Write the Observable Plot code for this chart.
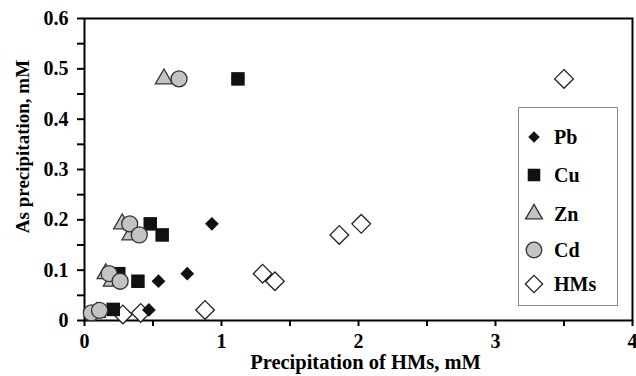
<!DOCTYPE html>
<html><head><meta charset="utf-8">
<script src="https://cdn.jsdelivr.net/npm/d3@7"></script>
<script src="https://cdn.jsdelivr.net/npm/@observablehq/plot@0.6"></script>
<style>body{margin:0;background:#fff}#chart{width:636px;height:376px}</style>
</head><body><div id="chart"></div>
<script>
const seriesNames = ["Pb", "Cu", "Zn", "Cd", "HMs"];
const pbX = [1.12, 0.93, 0.567, 0.75, 0.54, 0.47];
const pbY = [0.48, 0.192, 0.17, 0.093, 0.078, 0.021];
const cuX = [1.12, 0.48, 0.567, 0.25, 0.39, 0.21];
const cuY = [0.48, 0.192, 0.17, 0.093, 0.078, 0.022];
const znX = [0.58, 0.275, 0.336, 0.155, 0.20, 0.09];
const znY = [0.48, 0.192, 0.17, 0.093, 0.078, 0.016];
const cdX = [0.69, 0.33, 0.40, 0.18, 0.26, 0.05, 0.11];
const cdY = [0.48, 0.192, 0.17, 0.093, 0.078, 0.015, 0.02];
const hmX = [3.5, 2.02, 1.86, 1.30, 1.39, 0.88, 0.41, 0.28];
const hmY = [0.48, 0.192, 0.17, 0.093, 0.078, 0.021, 0.015, 0.012];
const xTicks = [0, 1, 2, 3, 4];
const xMinorTicks = [0.5, 1.5, 2.5, 3.5];
const yTicks = [0, 0.1, 0.2, 0.3, 0.4, 0.5, 0.6];
const yMinorTicks = [0.05, 0.15, 0.25, 0.35, 0.45, 0.55];
const xLabel = "Precipitation of HMs, mM";
const yLabel = "As precipitation, mM";

const rows = (xs, ys, s) => xs.map((x, i) => ({series: s, x, y: ys[i]}));
const pb = rows(pbX, pbY, "Pb"), cu = rows(cuX, cuY, "Cu"), zn = rows(znX, znY, "Zn"),
      cd = rows(cdX, cdY, "Cd"), hm = rows(hmX, hmY, "HMs");

const styles = {
  Pb:  {symbol: "diamond2", fill: "#111", stroke: "none", r: 6.2, lr: 5.2},
  Cu:  {symbol: "square2", fill: "#111", stroke: "none", r: 8.6, lr: 8},
  Zn:  {symbol: "triangle2", fill: "#c3c3c3", stroke: "#333", r: 8.2, lr: 8},
  Cd:  {symbol: "circle", fill: "#c3c3c3", stroke: "#333", r: 8, lr: 7.8},
  HMs: {symbol: "diamond2", fill: "#fff", stroke: "#222", r: 8.4, lr: 7.8}
};
const d3sym = {diamond2: d3.symbolDiamond2, square2: d3.symbolSquare2, triangle2: d3.symbolTriangle2, circle: d3.symbolCircle};

const dots = (data, s) => Plot.dot(data, {x: "x", y: "y", symbol: styles[s].symbol, r: styles[s].r,
  fill: styles[s].fill, stroke: styles[s].stroke, strokeWidth: 1.3});

function legend(index, scales, values, dimensions) {
  const g = d3.create("svg:g");
  g.append("rect").attr("x", 518.5).attr("y", 107.5).attr("width", 99).attr("height", 198)
    .attr("fill", "#fff").attr("stroke", "#888").attr("stroke-width", 1);
  const ys = [137, 175, 214, 250, 284];
  seriesNames.forEach((s, i) => {
    const st = styles[s];
    g.append("path").attr("transform", `translate(534,${ys[i]})`)
      .attr("d", d3.symbol(d3sym[st.symbol], Math.PI * st.lr * st.lr)())
      .attr("fill", st.fill).attr("stroke", st.stroke).attr("stroke-width", 1.3);
    g.append("text").attr("x", 554).attr("y", ys[i] + 7).text(s)
      .attr("text-anchor", "start")
      .attr("font-family", "Liberation Serif").attr("font-weight", "bold").attr("font-size", 20).attr("fill", "#000");
  });
  return g.node();
}

const fmtY = d => d === 0 ? "0" : d3.format(".1f")(d);
const blank = () => "";

const plot = Plot.plot({
  width: 636, height: 376,
  marginLeft: 84, marginRight: 4, marginTop: 18, marginBottom: 56,
  x: {domain: [0, 4]},
  y: {domain: [0, 0.6]},
  style: {fontFamily: "Liberation Serif", fontWeight: "bold", fontSize: "20px", color: "#000", background: "#fff"},
  marks: [
    Plot.axisX(xTicks, {tickSize: 6, tickPadding: 7, strokeWidth: 2, label: null, tickFormat: d => String(d)}),
    Plot.axisX(xMinorTicks, {tickSize: 6, strokeWidth: 2, label: null, tickFormat: blank}),
    Plot.axisY(yTicks, {tickSize: 7, tickPadding: 9, strokeWidth: 2, label: null, tickFormat: fmtY}),
    Plot.axisY(yMinorTicks, {tickSize: 7, strokeWidth: 2, label: null, tickFormat: blank}),
    Plot.frame({stroke: "#000", strokeWidth: 2}),
    dots(hm, "HMs"), dots(pb, "Pb"), dots(cu, "Cu"), dots(zn, "Zn"), dots(cd, "Cd"),
    legend,
    Plot.text([xLabel], {frameAnchor: "bottom", textAnchor: "middle", dx: 7, dy: 48, fontSize: 20.5, fontWeight: "bold"}),
    Plot.text([yLabel], {frameAnchor: "left", textAnchor: "middle", rotate: -90, dx: -62, dy: -23, fontSize: 19, fontWeight: "bold"})
  ]
});
document.getElementById("chart").append(plot);
</script></body></html>
